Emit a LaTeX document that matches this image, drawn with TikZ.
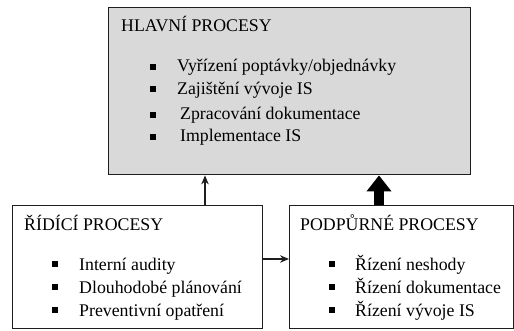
\documentclass[tikz,border=0pt]{standalone}
\usepackage{fontspec}
\setmainfont{Liberation Serif}
\usetikzlibrary{arrows.meta}
\definecolor{boxline}{HTML}{1E1E1E}
\definecolor{mainfill}{HTML}{D9D9D9}
\begin{document}
\begin{tikzpicture}[x=1pt,y=-1pt,
  procbox/.style={draw=boxline,line width=1.4pt,anchor=north west,inner sep=0pt},
  txt/.style={anchor=base west,inner sep=0pt,font=\fontsize{17.8}{20}\selectfont},
  bullet/.style={fill=black,inner sep=0pt,minimum size=5.4pt},
  link/.style={draw=boxline,line width=1.2pt,-{Stealth[length=9pt,width=7.5pt]}},
  bigarrow/.style={draw=black,line width=10pt,-{Triangle[length=16pt,width=24pt]}}]
  \useasboundingbox (0,0) rectangle (514,331);

  % three process blocks
  \node[procbox,fill=mainfill,minimum width=362pt,minimum height=167pt] (hlavni) at (108,7) {};
  \node[procbox,minimum width=250pt,minimum height=123pt] (ridici) at (12,205) {};
  \node[procbox,minimum width=224pt,minimum height=123pt] (podpurne) at (289,205) {};

  % main processes
  \node[txt] (h0) at (121,32) {HLAVNÍ PROCESY};
  \node[bullet] (hb1) at (153,67) {};
  \node[txt] (h1) at (177,72) {Vyřízení poptávky/objednávky};
  \node[bullet] (hb2) at (153,89) {};
  \node[txt] (h2) at (177,95) {Zajištění vývoje IS};
  \node[bullet] (hb3) at (153,115) {};
  \node[txt] (h3) at (180,120) {Zpracování dokumentace};
  \node[bullet] (hb4) at (153,137) {};
  \node[txt] (h4) at (180,142) {Implementace IS};

  % management processes
  \node[txt] (r0) at (24,230) {ŘÍDÍCÍ PROCESY};
  \node[bullet] (rb1) at (55,264) {};
  \node[txt] (r1) at (79,270) {Interní audity};
  \node[bullet] (rb2) at (55,287) {};
  \node[txt] (r2) at (79,293) {Dlouhodobé plánování};
  \node[bullet] (rb3) at (55,310) {};
  \node[txt] (r3) at (79,316) {Preventivní opatření};

  % support processes
  \node[txt] (p0) at (300,230) {PODPŮRNÉ PROCESY};
  \node[bullet] (pb1) at (332,264) {};
  \node[txt] (p1) at (355,270) {Řízení neshody};
  \node[bullet] (pb2) at (332,287) {};
  \node[txt] (p2) at (355,293) {Řízení dokumentace};
  \node[bullet] (pb3) at (332,310) {};
  \node[txt] (p3) at (355,316) {Řízení vývoje IS};

  % connectors
  \coordinate (thinx) at (205,0);
  \coordinate (thickx) at (379,0);
  \coordinate (sidey) at (0,259);
  \draw[link] (ridici.north -| thinx) -- (hlavni.south -| thinx);
  \draw[link] (ridici.east |- sidey) -- (podpurne.west |- sidey);
  \draw[bigarrow] (podpurne.north -| thickx) -- (hlavni.south -| thickx);
\end{tikzpicture}
\end{document}
